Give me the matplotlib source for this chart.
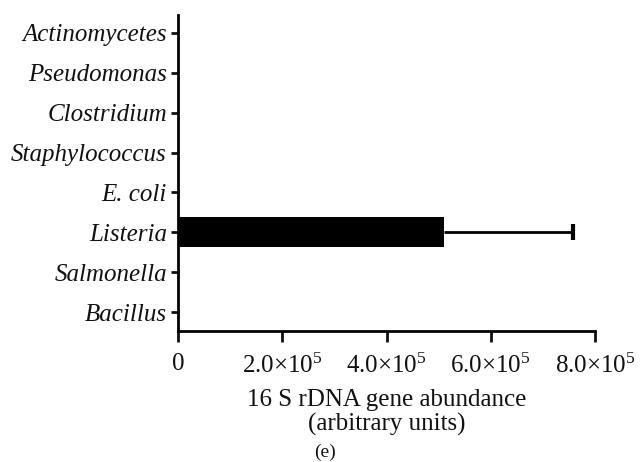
import matplotlib
matplotlib.use("Agg")
import matplotlib.pyplot as plt
from matplotlib.ticker import FuncFormatter

plt.rcParams['font.family'] = ['Liberation Serif', 'DejaVu Serif']
plt.rcParams['mathtext.fontset'] = 'custom'
plt.rcParams['mathtext.rm'] = 'Liberation Serif'
plt.rcParams['mathtext.it'] = 'Liberation Serif:italic'

# categories from bottom to top
species = ['Bacillus', 'Salmonella', 'Listeria', 'E. coli',
           'Staphylococcus', 'Clostridium', 'Pseudomonas', 'Actinomycetes']
abundance = [0, 0, 5.11e5, 0, 0, 0, 0, 0]
errors = [0, 0, 2.47e5, 0, 0, 0, 0, 0]
xticks = [0, 2e5, 4e5, 6e5, 8e5]


def fmt(v, pos):
    if v == 0:
        return '0'
    return '%.1f×10$^{5}$' % (v / 1e5)


fig = plt.figure(figsize=(6.42, 4.62), dpi=100)
ax = fig.add_axes([0.2773, 0.2835, 0.6495, 0.684])

ypos = list(range(len(species)))
ax.barh(ypos, abundance, height=0.75, color='black', zorder=3)
for y, v, e in zip(ypos, abundance, errors):
    if e > 0:
        ax.errorbar(v, y, xerr=[[0], [e]], fmt='none', ecolor='black',
                    elinewidth=2, capsize=0, zorder=2)
        ax.plot([v + e], [y], marker='|', markersize=12, mew=3,
                color='black', zorder=2)

ax.set_xlim(0, 8e5)
ax.set_ylim(-0.475, 7.45)
ax.set_xticks(xticks)
ax.xaxis.set_major_formatter(FuncFormatter(fmt))
ax.set_yticks(ypos)
ax.set_yticklabels(species, fontstyle='italic')

for s in ['top', 'right']:
    ax.spines[s].set_visible(False)
for s in ['left', 'bottom']:
    ax.spines[s].set_linewidth(2)

ax.tick_params(axis='y', length=5, width=2, labelsize=18, pad=3,
               colors='#111111')
ax.tick_params(axis='x', length=8, width=2, labelsize=18, pad=8,
               colors='#111111')

ax.set_xlabel('16 S rDNA gene abundance\n(arbitrary units)', fontsize=18,
              labelpad=8, linespacing=1.15, color='#111111')
fig.text(0.506, 0.002, '(e)', fontsize=14, ha='center', va='bottom',
         color='#111111')

fig.savefig('out.png', dpi=100)
